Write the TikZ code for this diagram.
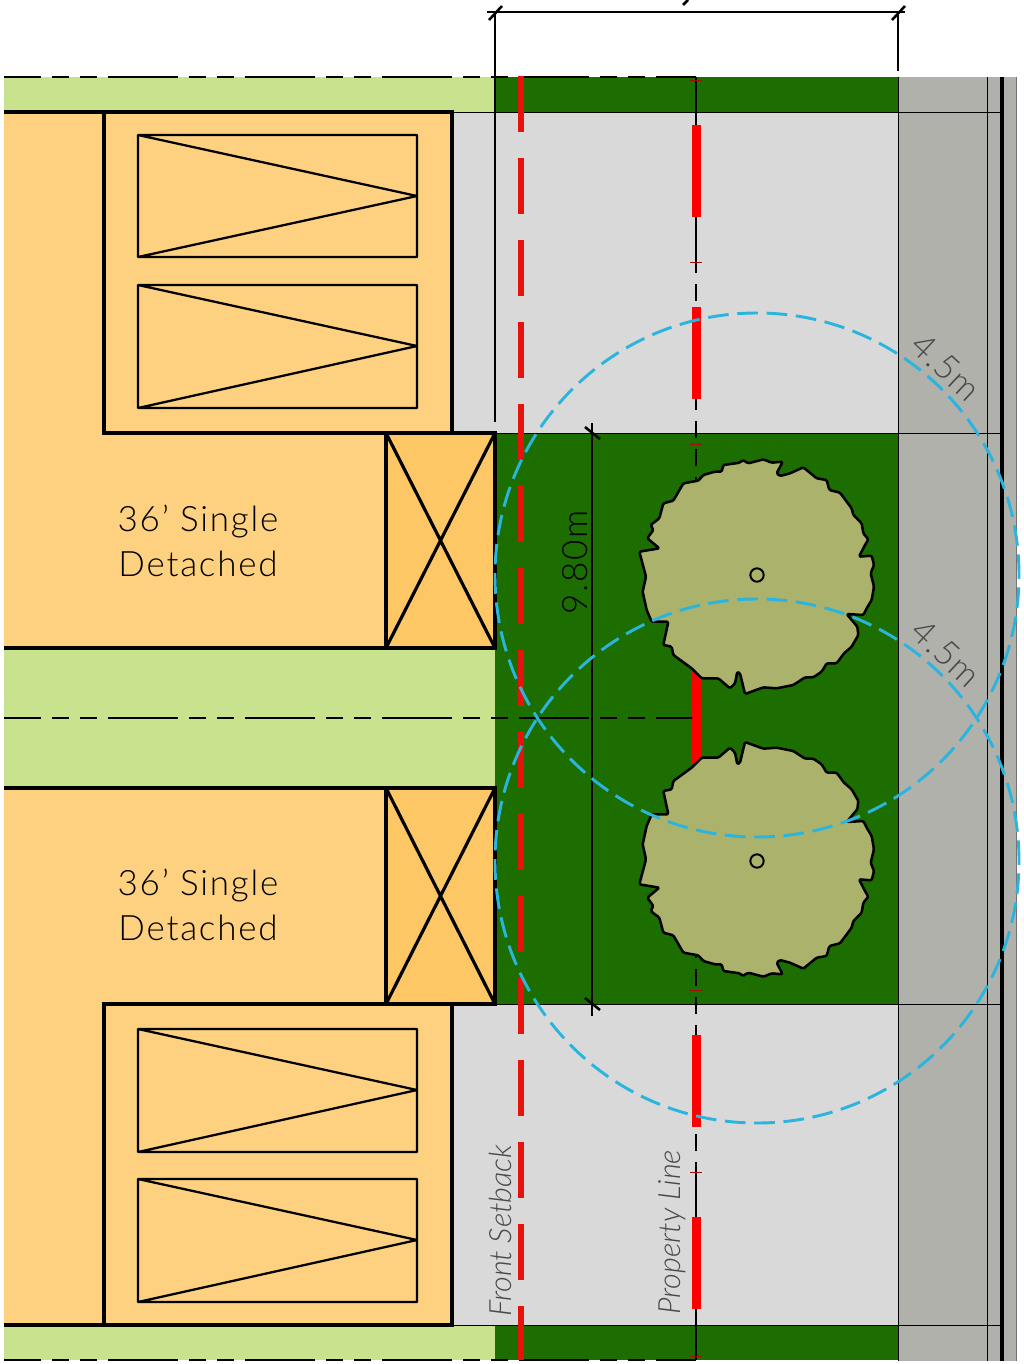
\documentclass[tikz,border=0pt]{standalone}
\usepackage{fontspec}
\setmainfont{Lato}[UprightFont={* Light},ItalicFont={* Light Italic}]
\definecolor{lawn}{HTML}{C9E28D}
\definecolor{turf}{HTML}{1C6E01}
\definecolor{paving}{HTML}{D9D9D9}
\definecolor{road}{HTML}{B1B1AB}
\definecolor{house}{HTML}{FDD17F}
\definecolor{porch}{HTML}{FEC765}
\definecolor{crown}{HTML}{AAB26C}
\definecolor{setback}{HTML}{E5130C}
\definecolor{radius}{HTML}{2BB5DE}
\definecolor{notelabel}{HTML}{484848}
\tikzset{
  x=0.75pt,y=-0.75pt,
  wall/.style={draw=black,line width=2.4pt,line join=miter},
  inner/.style={draw=black,line width=1.7pt},
  thinline/.style={draw=black,line width=0.75pt},
  dimline/.style={draw=black,line width=1.9pt},
  propline/.style={draw=black,line width=1.7pt,
    dash pattern=on 52.5pt off 8.25pt on 12.75pt off 8.25pt on 12.75pt off 8.25pt},
  treecrown/.style={fill=crown,draw=black,line width=1.9pt,line join=round,rounded corners=1pt},
  spread/.style={draw=radius,line width=2.2pt,dash pattern=on 15.5pt off 6.5pt},
  mainlabel/.style={font=\fontsize{26.25}{33.75}\selectfont\addfontfeature{LetterSpace=5},text=black,inner sep=0pt,align=center},
  note/.style={font=\fontsize{23}{26}\selectfont\itshape,text=notelabel,inner sep=0pt},
  radlabel/.style={font=\fontsize{26}{28}\selectfont\addfontfeature{LetterSpace=4},text=notelabel,inner sep=0pt,rotate=-43},
  treeoutline/.style={insert path={
    (235,122)--(250,105)--(285,95)--(305,95)--(310,75)--(360,68)--(368,60)--(385,70)--(430,58)--(455,68)--(488,65)--(470,100)--(480,108)--(510,100)--(550,82)--(590,115)--(620,120)--(628,150)--(660,158)--(695,205)--(700,225)--(725,250)--(730,280)--(745,298)--(735,315)--(717,350)--(755,347)--(762,375)--(752,400)--(762,440)--(755,480)--(740,505)--(730,525)--(680,522)--(712,560)--(715,585)--(695,620)--(672,640)--(650,670)--(620,670)--(605,695)--(580,712)--(555,712)--(520,735)--(470,745)--(430,742)--(375,762)--(360,700)--(352,695)--(345,730)--(330,745)--(295,715)--(245,715)--(215,685)--(160,645)--(155,620)--(130,615)--(145,545)--(95,545)--(80,510)--(68,455)--(78,410)--(58,335)--(118,325)--(82,295)--(100,270)--(92,255)--(118,235)--(130,190)--(160,182)--(190,130)--cycle}},
}
\begin{document}
\begin{tikzpicture}
\useasboundingbox (0,0) rectangle (1024,1364);
% ground
\fill[road] (898,77) rectangle (1016.5,1361);
\fill[lawn] (4,77) rectangle (495,112);
\fill[lawn] (4,648) rectangle (495,788);
\fill[lawn] (4,1325) rectangle (495,1360);
\fill[turf] (495,77) rectangle (898,112);
\fill[turf] (495,433) rectangle (898,1004);
\fill[turf] (495,1325) rectangle (898,1360);
\fill[paving] (452,112) rectangle (898,433);
\fill[paving] (452,1004) rectangle (898,1325);
% thin road lines
\draw[thinline] (452,112) -- (1002,112);
\draw[thinline] (495,433) -- (1002,433);
\draw[thinline] (495,1004) -- (1002,1004);
\draw[thinline] (452,1325) -- (1002,1325);
\draw[thinline] (898,77) -- (898,1361);
\draw[thinline] (987.5,77) -- (987.5,1361);
\draw[draw=black!55,line width=0.75pt] (1016.5,77) -- (1016.5,1361);
\draw[draw=black,line width=2.6pt] (1002,77) -- (1002,1361);
% houses
\fill[house] (4,112) rectangle (452,433);
\fill[house] (4,433) rectangle (386,648);
\fill[house] (4,788) rectangle (386,1004);
\fill[house] (4,1004) rectangle (452,1325);
\draw[wall] (4,112) -- (452,112) -- (452,433) -- (104,433) -- (104,112);
\draw[wall] (4,1325) -- (452,1325) -- (452,1004) -- (104,1004) -- (104,1325);
\draw[wall,fill=porch] (386,433) rectangle (495,648);
\draw[wall,fill=porch] (386,788) rectangle (495,1004);
\draw[wall] (386,433) -- (495,648) (495,433) -- (386,648);
\draw[wall] (386,788) -- (495,1004) (495,788) -- (386,1004);
\draw[wall] (4,648) -- (386,648);
\draw[wall] (4,788) -- (386,788);
% garage doors
\draw[inner,line join=bevel] (138,135) rectangle (417,257) (138,135) -- (417,196) -- (138,257);
\draw[inner,line join=bevel] (138,285) rectangle (417,408) (138,285) -- (417,346) -- (138,408);
\draw[inner,line join=bevel] (138,1029) rectangle (417,1152) (138,1029) -- (417,1090) -- (138,1152);
\draw[inner,line join=bevel] (138,1179) rectangle (417,1302) (138,1179) -- (417,1240) -- (138,1302);
% dimensions
\coordinate (dimL) at (495,12);
\coordinate (dimR) at (898,12);
\coordinate (dimLfoot) at (495,422);
\coordinate (dimRfoot) at (898,71);
\coordinate (dimT) at (592,423);
\coordinate (dimB) at (592,1016);
\draw[dimline] (dimLfoot) -- (dimL);
\draw[dimline] (dimRfoot) -- (dimR);
\draw[dimline] (487,12) -- (905,12);
\draw[dimline] (489,20) -- (502,6);
\draw[dimline] (892,20) -- (905,6);
\draw[dimline] (683,5) -- (688,0);
\draw[dimline] (dimT) -- (dimB);
\draw[dimline] (585,427) -- (600,439);
\draw[dimline] (585,998) -- (600,1010);
% property lines
\draw[propline,dash phase=24.75pt] (4,77) -- (696,77);
\draw[propline,dash phase=24.75pt] (4,718) -- (696,718);
\draw[propline,dash phase=24.75pt] (4,1360) -- (696,1360);
\draw[propline,line width=1.9pt,dash phase=8.25pt] (696,77) -- (696,1360);
\foreach \ty in {80,262,444,990,1172,1356}
  \draw[draw=setback!70!black,line width=0.5pt] (690,\ty) -- (702,\ty);
\draw[draw=red,line width=6.75pt,dash pattern=on 69pt off 67.5pt] (696,125) -- (696,1309);
\draw[draw=setback,line width=4.2pt,dash pattern=on 42pt off 19.5pt] (521,76) -- (521,1360);
% trees
\begin{scope}[shift={(620,440)},x=0.25pt,y=-0.25pt]
\path[treecrown,treeoutline];
\end{scope}
\begin{scope}[shift={(620,996)},x=0.25pt,y=0.25pt]
\path[treecrown,treeoutline];
\end{scope}
\node[draw=black,line width=1.5pt,circle,minimum size=10pt,inner sep=0pt] (trunkA) at (757,575) {};
\node[draw=black,line width=1.5pt,circle,minimum size=10pt,inner sep=0pt] (trunkB) at (757,861) {};
% spread circles
\draw[spread] (757,575) circle[radius=196.5pt];
\draw[spread] (757,861) circle[radius=196.5pt];
% labels
\node[mainlabel] (houseA) at (198,541) {36' Single\\Detached};
\node[mainlabel] (houseB) at (198,905) {36' Single\\Detached};
\node[mainlabel,rotate=90,anchor=base] (depth) at (587,562) {9.80m};
\node[radlabel] (radA) at (946,367) {4.5m};
\node[radlabel] (radB) at (946,653) {4.5m};
\node[note,rotate=90,anchor=base west] (fsb) at (511,1317) {Front Setback};
\node[note,rotate=90,anchor=base west] (pl) at (680,1315) {Property Line};
\end{tikzpicture}
\end{document}
